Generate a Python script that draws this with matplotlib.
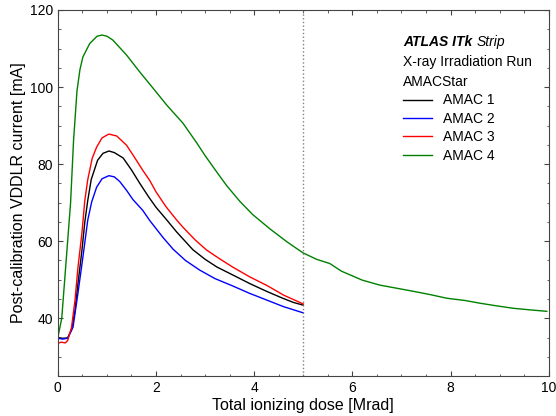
import matplotlib
matplotlib.use("Agg")
import matplotlib.pyplot as plt
from matplotlib.ticker import MultipleLocator

plt.rcParams["font.family"] = ["Liberation Sans", "DejaVu Sans"]

# ----------
# Data (dose in Mrad, current in mA)
# ----------
dose_1 = [0.0, 0.1, 0.2, 0.28, 0.35, 0.41, 0.49, 0.55, 0.61, 0.68, 0.81, 0.92, 1.04, 1.15, 1.33,
          1.5, 1.67, 1.85, 2.0, 2.2, 2.42, 2.75, 3.0, 3.24, 3.6, 3.91, 4.25, 4.58, 4.8, 5.0]
amac_1 = [35.0, 34.8, 34.9, 37.0, 42.0, 49.0, 57.5, 65.0, 70.6, 76.0, 81.0, 82.8, 83.4, 83.0, 81.6,
          78.5, 75.0, 71.5, 68.8, 65.8, 62.4, 57.8, 55.3, 53.3, 51.0, 49.0, 47.0, 45.2, 44.1, 43.4]

dose_2 = [0.0, 0.1, 0.2, 0.31, 0.41, 0.51, 0.61, 0.69, 0.79, 0.9, 1.04, 1.15, 1.26,
          1.4, 1.53, 1.73, 1.87, 2.14, 2.35, 2.6, 2.89, 3.2, 3.56, 3.9, 4.26, 4.6, 5.0]
amac_2 = [34.8, 34.6, 34.8, 37.7, 46.5, 55.8, 65.5, 70.2, 74.0, 76.2, 77.0, 76.7, 75.5,
          73.2, 70.8, 68.0, 65.4, 61.0, 57.9, 55.0, 52.5, 50.3, 48.4, 46.5, 44.7, 43.0, 41.4]

dose_3 = [0.0, 0.07, 0.15, 0.2, 0.28, 0.35, 0.41, 0.49, 0.55, 0.61, 0.7, 0.79, 0.9, 1.04, 1.2,
          1.4, 1.55, 1.73, 1.87, 2.0, 2.2, 2.42, 2.55, 2.8, 3.03, 3.3, 3.56, 3.9, 4.26, 4.6, 5.0]
amac_3 = [33.5, 33.8, 33.6, 34.2, 37.7, 44.7, 53.2, 62.0, 70.6, 76.0, 81.5, 84.4, 86.8, 87.8, 87.3,
          84.9, 82.0, 78.4, 75.8, 72.8, 69.0, 65.5, 63.6, 60.3, 57.7, 55.4, 53.3, 50.8, 48.5, 46.0, 43.7]

dose_4 = [0.0, 0.08, 0.14, 0.2, 0.26, 0.32, 0.39, 0.45, 0.51, 0.65, 0.8, 0.9, 1.0, 1.12, 1.4,
          1.67, 1.94, 2.22, 2.55, 2.83, 3.0, 3.24, 3.44, 3.71, 3.97, 4.32, 4.66, 4.99, 5.27, 5.54,
          5.78, 6.2, 6.56, 6.9, 7.24, 7.6, 7.92, 8.3, 8.6, 8.95, 9.27, 9.6, 9.96]
amac_4 = [35.0, 40.0, 50.0, 60.0, 70.0, 86.0, 99.0, 104.5, 107.8, 111.3, 113.2, 113.5, 113.2, 112.2, 108.3,
          103.9, 99.7, 95.3, 90.6, 85.5, 82.2, 77.9, 74.4, 70.3, 66.9, 63.2, 59.9, 57.0, 55.3, 54.2,
          52.2, 49.9, 48.6, 47.8, 47.0, 46.1, 45.2, 44.6, 43.9, 43.2, 42.6, 42.2, 41.8]

labels = ["AMAC 1", "AMAC 2", "AMAC 3", "AMAC 4"]
colors = ["black", "blue", "red", "green"]

# ----------
# Plot
# ----------
fig = plt.figure(figsize=(5.56, 4.16), dpi=100)
ax = fig.add_axes([0.104, 0.096, 0.883, 0.880])

for d, a, lab, c in zip([dose_1, dose_2, dose_3, dose_4],
                        [amac_1, amac_2, amac_3, amac_4], labels, colors):
    ax.plot(d, a, color=c, lw=1.0, label=lab)

# end of the first irradiation step
ax.axvline(5, color="gray", ls=":", lw=1.0)

ax.set_xlim(0, 10)
ax.set_ylim(25, 120)
ax.xaxis.set_major_locator(MultipleLocator(2))
ax.xaxis.set_minor_locator(MultipleLocator(0.5))
ax.yaxis.set_major_locator(MultipleLocator(20))
ax.yaxis.set_minor_locator(MultipleLocator(5))
ax.tick_params(which="both", direction="in", top=True, right=True, labelsize=10,
               colors="#444444", labelcolor="black")
ax.tick_params(which="major", length=3.6)
ax.tick_params(which="minor", length=1.8)
for s in ax.spines.values():
    s.set_color("#444444")

ax.set_xlabel("Total ionizing dose [Mrad]", fontsize=11.5, labelpad=2)
ax.set_ylabel("Post-calibration VDDLR current [mA]", fontsize=11.5, labelpad=3)

t = ax.text(0.703, 0.913, "ATLAS ITk", transform=ax.transAxes, fontsize=10,
            fontweight="bold", style="italic", va="center")
fig.canvas.draw()
bb = t.get_window_extent().transformed(ax.transAxes.inverted())
ax.text(bb.x1 + 0.008, 0.913, "Strip", transform=ax.transAxes, fontsize=10,
        style="italic", va="center")
ax.text(0.703, 0.858, "X-ray Irradiation Run", transform=ax.transAxes, fontsize=10, va="center")
ax.text(0.703, 0.803, "AMACStar", transform=ax.transAxes, fontsize=10, va="center")

ax.legend(loc="upper left", bbox_to_anchor=(0.703, 0.772), frameon=False, fontsize=10,
          handlelength=2.1, handletextpad=0.8, labelspacing=0.32, borderpad=0,
          borderaxespad=0)

fig.savefig("out.png", dpi=100)
